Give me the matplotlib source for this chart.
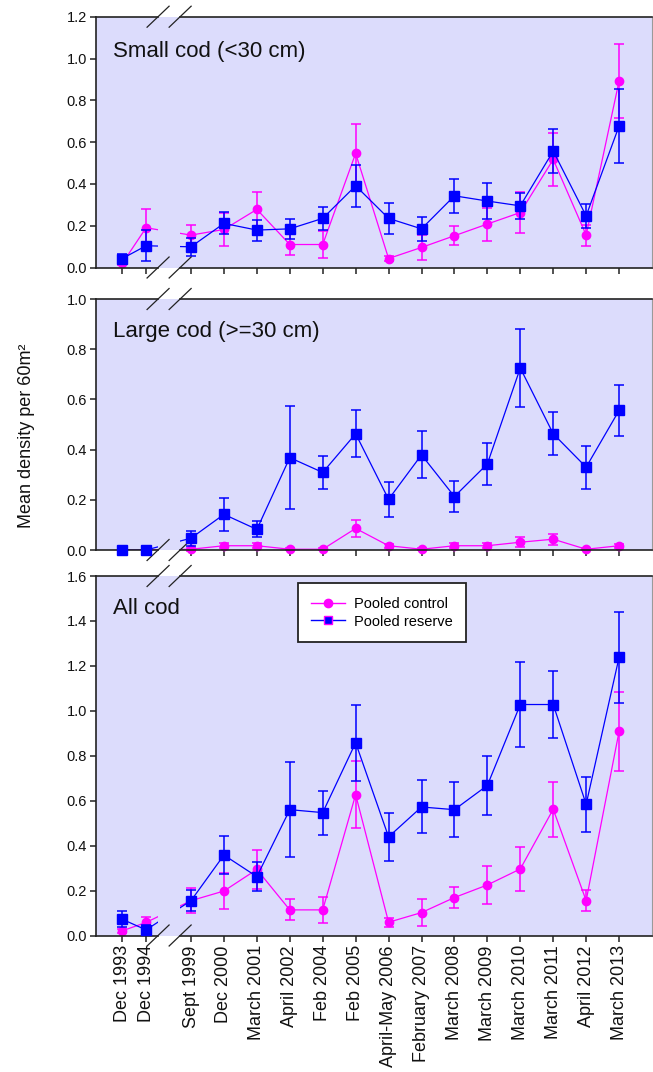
import numpy as np
import matplotlib
matplotlib.use('Agg')
import matplotlib.pyplot as plt
from matplotlib.path import Path
from matplotlib.lines import Line2D

plt.rcParams['font.family'] = ['Liberation Sans', 'DejaVu Sans']

# survey dates (the first two come before the axis break)
dates = ["Dec 1993", "Dec 1994", "Sept 1999", "Dec 2000", "March 2001", "April 2002",
         "Feb 2004", "Feb 2005", "April-May 2006", "February 2007", "March 2008",
         "March 2009", "March 2010", "March 2011", "April 2012", "March 2013"]

# small cod (<30 cm)
small_control = [0.02, 0.19, 0.155, 0.182, 0.278, 0.11, 0.11, 0.546, 0.043, 0.096,
                 0.152, 0.208, 0.263, 0.517, 0.155, 0.892]
small_control_err = [0.01, 0.088, 0.048, 0.077, 0.085, 0.05, 0.063, 0.14, 0.011, 0.059,
                     0.045, 0.079, 0.1, 0.125, 0.05, 0.176]
small_reserve = [0.043, 0.104, 0.099, 0.211, 0.179, 0.185, 0.235, 0.391, 0.235, 0.185,
                 0.343, 0.318, 0.295, 0.557, 0.247, 0.677]
small_reserve_err = [0.02, 0.075, 0.043, 0.053, 0.05, 0.047, 0.056, 0.1, 0.076, 0.056,
                     0.081, 0.087, 0.063, 0.106, 0.057, 0.175]

# large cod (>=30 cm)
large_control = [0.0, 0.0, 0.003, 0.017, 0.017, 0.003, 0.003, 0.086, 0.017, 0.003,
                 0.017, 0.017, 0.031, 0.043, 0.003, 0.017]
large_control_err = [0.0, 0.0, 0.005, 0.01, 0.01, 0.003, 0.003, 0.033, 0.008, 0.003,
                     0.01, 0.01, 0.02, 0.022, 0.003, 0.008]
large_reserve = [0.0, 0.0, 0.047, 0.142, 0.082, 0.368, 0.309, 0.463, 0.202, 0.379,
                 0.213, 0.343, 0.725, 0.463, 0.33, 0.556]
large_reserve_err = [0.0, 0.0, 0.03, 0.066, 0.032, 0.205, 0.066, 0.093, 0.069, 0.094,
                     0.063, 0.085, 0.157, 0.085, 0.086, 0.102]

# all cod
all_control = [0.021, 0.058, 0.155, 0.198, 0.294, 0.114, 0.114, 0.627, 0.059, 0.102,
               0.169, 0.225, 0.296, 0.562, 0.155, 0.908]
all_control_err = [0.01, 0.024, 0.055, 0.08, 0.086, 0.047, 0.058, 0.148, 0.02, 0.061,
                   0.048, 0.084, 0.1, 0.123, 0.048, 0.175]
all_reserve = [0.072, 0.025, 0.155, 0.358, 0.262, 0.56, 0.547, 0.858, 0.439, 0.572,
               0.56, 0.668, 1.028, 1.028, 0.584, 1.238]
all_reserve_err = [0.035, 0.02, 0.048, 0.085, 0.063, 0.212, 0.098, 0.169, 0.107, 0.118,
                   0.123, 0.131, 0.191, 0.15, 0.122, 0.203]

PINK = '#FF00FF'
BLUE = '#0000FF'
BG = '#DCDCFC'
INK = '#222222'

W, H = 653, 1072

# x layout: dates after the break are one unit apart, the early ones closer together
n_pre, pre_step, gap = 2, 0.72, 1.365
x = np.array([-(gap + pre_step * (n_pre - 1 - i)) if i < n_pre else i - n_pre
              for i in range(len(dates))], dtype=float)
xlim = (-2.87, 14.0)
brk = (-1.0, -0.33)

fig = plt.figure(figsize=(W / 100, H / 100), dpi=100)


def add_panel(top, bottom, left=96.5, right=652.0):
    return fig.add_axes([left / W, 1 - bottom / H, (right - left) / W, (bottom - top) / H])


def break_clip():
    y0, y1 = -10, 10
    verts = [(xlim[0] - 1, y0), (brk[0], y0), (brk[0], y1), (xlim[0] - 1, y1), (0, 0),
             (brk[1], y0), (xlim[1] + 1, y0), (xlim[1] + 1, y1), (brk[1], y1), (0, 0)]
    codes = [Path.MOVETO, Path.LINETO, Path.LINETO, Path.LINETO, Path.CLOSEPOLY] * 2
    return Path(verts, codes)


panels = [
    ("Small cod (<30 cm)", 1.2, 16.7, 267.5, 51,
     small_control, small_control_err, small_reserve, small_reserve_err),
    ("Large cod (>=30 cm)", 1.0, 299.0, 550.0, 332,
     large_control, large_control_err, large_reserve, large_reserve_err),
    ("All cod", 1.6, 576.0, 935.5, 608,
     all_control, all_control_err, all_reserve, all_reserve_err),
]

axes = []
for title, ymax, top, bottom, ty, ctl, ctl_e, res, res_e in panels:
    ax = add_panel(top, bottom)
    axes.append(ax)
    ax.set_facecolor(BG)

    for vals, errs, col, mk, ms, z in [(ctl, ctl_e, PINK, 'o', 6, 3),
                                       (res, res_e, BLUE, 's', 7, 5)]:
        line, = ax.plot(x, vals, color=col, lw=0.9, zorder=z)
        line.set_clip_path(break_clip(), ax.transData)
        eb = ax.errorbar(x, vals, yerr=errs, fmt=mk, color=col, ms=ms, mec=col,
                         capsize=3.8, elinewidth=1.1, capthick=1.1, zorder=z + 1)
        for art in [eb[0], *eb[1], *eb[2]]:
            art.set_clip_on(False)

    yt = np.round(np.arange(0, ymax + 0.01, 0.2), 1)
    ax.set_yticks(yt)
    ax.set_yticklabels([f"{v:.1f}" for v in yt], fontsize=10.5, color='#111111')
    ax.set_xticks(x)
    ax.set_xticklabels([])
    ax.tick_params(direction='out', length=4, width=1.1, color=INK, pad=3)

    # broken top/bottom frame with slash marks
    for s in ('top', 'bottom'):
        ax.spines[s].set_visible(False)
    ax.spines['left'].set_color(INK)
    ax.spines['left'].set_linewidth(1.2)
    ax.spines['right'].set_color('#9A9A9A')
    ax.spines['right'].set_linewidth(0.8)
    fa = (brk[0] - xlim[0]) / (xlim[1] - xlim[0])
    fb = (brk[1] - xlim[0]) / (xlim[1] - xlim[0])
    ax_w = 652.0 - 96.5
    ax_h = bottom - top
    dx, dy = 11 / ax_w, 10.5 / ax_h
    for yb in (0, 1):
        for seg in ([0, fa], [fb, 1]):
            ax.plot(seg, [yb, yb], transform=ax.transAxes, clip_on=False,
                    color=INK, lw=1.2, zorder=6)
        for f in (fa, fb):
            ax.plot([f - dx, f + dx], [yb - dy, yb + dy], transform=ax.transAxes,
                    clip_on=False, color=INK, lw=0.9, zorder=6)
    ax.set_xlim(*xlim)
    ax.set_ylim(0, ymax)

    fig.text(113 / W, 1 - ty / H, title, fontsize=16, ha='left', va='center',
             color='#111111')

# date labels on the bottom panel only
axes[-1].set_xticklabels(dates, rotation=90, fontsize=13, color='#111111')

handles = [Line2D([], [], color=PINK, lw=1, marker='o', ms=6),
           Line2D([], [], color=BLUE, lw=1, marker='s', ms=6, mec=PINK)]
leg = axes[-1].legend(handles, ["Pooled control", "Pooled reserve"], loc='upper left',
                      bbox_to_anchor=(0.362, 0.9805), fontsize=10.5, frameon=True,
                      fancybox=False, framealpha=1, edgecolor=INK, handlelength=2.3,
                      borderpad=0.95, labelspacing=0.25, handletextpad=0.6,
                      borderaxespad=0)
leg.get_frame().set_linewidth(1.3)
leg.set_zorder(10)

fig.text(27 / W, 1 - 436 / H, "Mean density per 60m²", rotation=90, fontsize=13,
         ha='center', va='center', color='#111111')

fig.savefig('out.png', dpi=100)
